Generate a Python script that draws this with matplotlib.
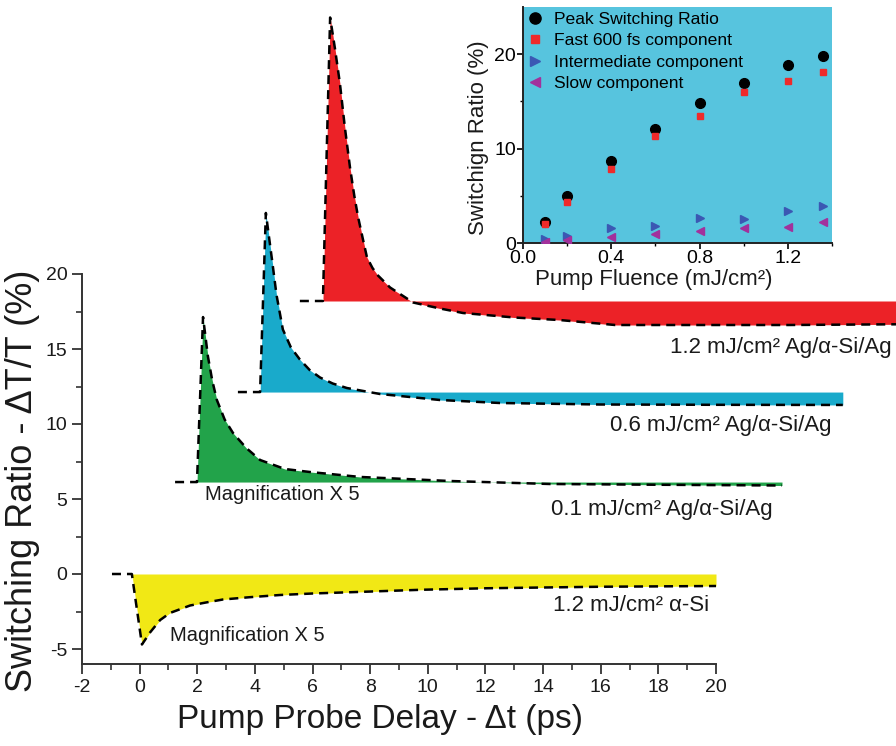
import matplotlib
matplotlib.use('Agg')
import matplotlib.pyplot as plt
from matplotlib.ticker import MultipleLocator, FixedLocator

plt.rcParams['font.family'] = ['Liberation Sans', 'DejaVu Sans']
plt.rcParams['axes.unicode_minus'] = False

# ---------------- main waterfall traces (delay in ps, signal in %) ----------------
red_base = 18.2
red_t = [5.56, 6.36, 6.61, 6.78, 6.95, 7.12, 7.30, 7.45, 7.58, 7.75, 7.89, 8.08, 8.27,
         8.69, 9.49, 10.42, 11.22, 13.0, 14.58, 16.5, 19.4, 22.5, 26.5]
red_y = [18.2, 18.2, 37.1, 35.0, 32.7, 29.8, 27.1, 25.2, 23.8, 22.3, 21.1, 20.4, 19.9,
         19.1, 18.1, 17.7, 17.4, 17.1, 16.93, 16.6, 16.6, 16.6, 16.65]

cyan_base = 12.13
cyan_t = [3.41, 4.18, 4.38, 4.48, 4.59, 4.75, 4.97, 5.25, 5.56, 5.9, 6.26, 6.7, 7.19,
          8.34, 10.42, 12.5, 15.97, 20.0, 24.4]
cyan_y = [12.13, 12.13, 24.07, 22.6, 21.0, 18.6, 16.3, 15.1, 14.3, 13.6, 13.1, 12.7, 12.4,
          12.0, 11.6, 11.4, 11.3, 11.28, 11.27]

green_base = 6.13
green_t = [1.23, 1.99, 2.20, 2.28, 2.37, 2.52, 2.68, 2.95, 3.24, 3.7, 4.18, 5.04, 5.91,
           7.65, 10.77, 14.24, 18.0, 22.29]
green_y = [6.13, 6.13, 17.13, 15.9, 14.5, 12.9, 11.6, 10.3, 9.4, 8.4, 7.6, 7.0, 6.8,
           6.47, 6.2, 6.0, 5.95, 5.9]

yellow_base = 0.0
yellow_t = [-0.96, -0.27, 0.08, 0.36, 0.71, 1.05, 1.4, 1.75, 2.3, 2.89, 3.8, 4.87,
            6.0, 7.54, 9.8, 12.05, 15.97, 20.0]
yellow_y = [0.0, 0.0, -4.7, -3.9, -3.07, -2.6, -2.35, -2.1, -1.9, -1.7, -1.55, -1.4,
            -1.3, -1.2, -1.05, -0.95, -0.85, -0.8]

trace_colors = ['#EC2227', '#19AACB', '#22A34A', '#F1E815']

# labels (text, x, y, ha)
labels_text = ['1.2 mJ/cm² Ag/\u03b1-Si/Ag', '0.6 mJ/cm² Ag/\u03b1-Si/Ag',
               '0.1 mJ/cm² Ag/\u03b1-Si/Ag', '1.2 mJ/cm² \u03b1-Si',
               'Magnification X 5', 'Magnification X 5']
labels_x = [26.1, 24.02, 21.98, 14.34, 2.27, 1.05]
labels_y = [15.07, 9.93, 4.27, -2.13, 5.27, -4.07]
labels_ha = ['right', 'right', 'right', 'left', 'left', 'left']
labels_fs = [16, 16, 16, 16, 14.5, 14.5]

# ---------------- inset data ----------------
fluence = [0.1, 0.2, 0.4, 0.6, 0.8, 1.0, 1.2, 1.36]
peak_ratio = [2.25, 4.93, 8.68, 12.1, 14.86, 16.96, 18.86, 19.86]
fast_comp = [1.96, 4.39, 7.86, 11.29, 13.5, 15.96, 17.18, 18.1]
inter_comp = [0.39, 0.71, 1.57, 1.82, 2.68, 2.54, 3.36, 3.93]
slow_comp = [0.1, 0.36, 0.64, 0.96, 1.32, 1.57, 1.71, 2.18]

fig = plt.figure(figsize=(8.96, 7.46), dpi=100)
ax = fig.add_axes([82/896, 1-664/746, 634/896, 390/746])

traces = [(red_t, red_y, red_base), (cyan_t, cyan_y, cyan_base),
          (green_t, green_y, green_base), (yellow_t, yellow_y, yellow_base)]
for (t, y, b), c in zip(traces, trace_colors):
    ax.fill_between(t, [b]*len(t), y, color=c, lw=0, clip_on=False, zorder=2)
    ax.plot(t, y, color='black', lw=1.8, dashes=(3.6, 2.4), clip_on=False, zorder=3)

for s, x, y, ha, fs in zip(labels_text, labels_x, labels_y, labels_ha, labels_fs):
    ax.text(x, y, s, ha=ha, va='center', fontsize=fs, color='#1a1a1a')

ax.set_xlim(-2, 20)
ax.set_ylim(-6, 20)
ax.xaxis.set_major_locator(FixedLocator(list(range(-2, 21, 2))))
ax.xaxis.set_minor_locator(MultipleLocator(1))
ax.yaxis.set_major_locator(FixedLocator([-5, 0, 5, 10, 15, 20]))
ax.yaxis.set_minor_locator(MultipleLocator(2.5))
for sp in ['top', 'right']:
    ax.spines[sp].set_visible(False)
for sp in ['left', 'bottom']:
    ax.spines[sp].set_linewidth(1.4)
    ax.spines[sp].set_color('#333333')
ax.tick_params(which='major', direction='out', length=7, width=1.3, labelsize=14, colors='#333333')
ax.tick_params(which='minor', direction='out', length=4, width=1.2, colors='#333333')
ax.tick_params(labelcolor='#1a1a1a')
ax.set_xlabel('Pump Probe Delay - \u0394t (ps)', fontsize=24, color='#1a1a1a')
ax.set_ylabel('Switching Ratio - \u0394T/T (%)', fontsize=26, color='#1a1a1a')
ax.xaxis.set_label_coords(0.47, -0.103)
ax.yaxis.set_label_coords(-0.066, 0.47)

# ---------------- inset ----------------
ax2 = fig.add_axes([523/896, 1-243/746, 309/896, 236/746], facecolor='#57C4DE')
ax2.plot(fluence, peak_ratio, 'o', color='black', ms=7, label='Peak Switching Ratio', zorder=4)
ax2.plot(fluence, fast_comp, 's', color='#EE2A2A', ms=5, label='Fast 600 fs component', zorder=5)
ax2.plot(fluence, inter_comp, '>', color='#3B58B3', ms=6, label='Intermediate component', zorder=4)
ax2.plot(fluence, slow_comp, '<', color='#A2319C', ms=6, label='Slow component', zorder=4)
ax2.set_xlim(0, 1.4)
ax2.set_ylim(0, 25)
ax2.xaxis.set_major_locator(FixedLocator([0.0, 0.4, 0.8, 1.2]))
ax2.xaxis.set_minor_locator(FixedLocator([0.2, 0.6, 1.0, 1.4]))
ax2.yaxis.set_major_locator(FixedLocator([0, 10, 20]))
ax2.yaxis.set_minor_locator(FixedLocator([5, 15]))
ax2.set_xticklabels(['0.0', '0.4', '0.8', '1.2'])
for sp in ['top', 'right']:
    ax2.spines[sp].set_visible(False)
for sp in ['left', 'bottom']:
    ax2.spines[sp].set_linewidth(1.4)
    ax2.spines[sp].set_color('#222222')
ax2.tick_params(which='major', direction='out', length=4, width=1.2, labelsize=14, pad=1)
ax2.tick_params(which='minor', direction='out', length=2.5, width=1.0)
ax2.set_xlabel('Pump Fluence (mJ/cm²)', fontsize=16, color='#1a1a1a')
ax2.set_ylabel('Switchign Ratio (%)', fontsize=16, color='#1a1a1a')
ax2.xaxis.set_label_coords(0.424, -0.11)
ax2.yaxis.set_label_coords(-0.11, 0.445)
ax2.legend(loc='upper left', bbox_to_anchor=(0.0, 1.0), frameon=False, fontsize=12.6,
           labelspacing=0.36, handlelength=0.9, handletextpad=0.6, borderaxespad=0.0,
           borderpad=0.25, markerscale=1.15)

fig.savefig('out.png', dpi=100)
